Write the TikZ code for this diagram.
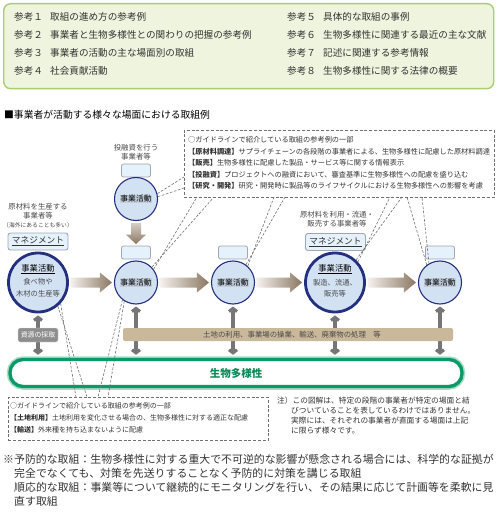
\documentclass[tikz,border=0pt]{standalone}
\usepackage{fontspec}
\setmainfont{Noto Sans CJK JP}
\newfontfamily\jp{Noto Sans CJK JP}
\usetikzlibrary{arrows.meta,calc}
\definecolor{navy}{HTML}{23307F}
\definecolor{cfill}{HTML}{D3E2F3}
\definecolor{tagfill}{HTML}{E5F1FB}
\definecolor{tagborder}{HTML}{9FA7B2}
\definecolor{dashgray}{HTML}{707070}
\definecolor{arrgray}{HTML}{767676}
\definecolor{tanbar}{HTML}{C9B899}
\definecolor{gbar}{HTML}{0A9A68}
\definecolor{gglow}{HTML}{A9DCC5}
\definecolor{gtext}{HTML}{098A58}
\definecolor{topfill}{HTML}{EFF4DE}
\definecolor{topborder}{HTML}{A9CF6E}
\definecolor{txt}{HTML}{333333}
\definecolor{lgray}{HTML}{4A4A4A}
\definecolor{brlight}{HTML}{F6F2EE}
\definecolor{brdark}{HTML}{8B7762}
\definecolor{hlfill}{HTML}{C2CDDB}
\definecolor{samplegray}{HTML}{8E8E8E}
\newcommand\fs[1]{\fontsize{#1}{#1}\selectfont}
\newcommand\brarrow[2]{%
\shade[left color=brlight, right color=brdark] let \p1=(#1.east), \p2=(#2.west) in
 ({\x1+1.5pt},{\y1+5pt}) -- ({\x2-14pt},{\y1+5pt}) -- ({\x2-14pt},{\y1+10pt}) -- ({\x2-2pt},\y1) -- ({\x2-14pt},{\y1-10pt}) -- ({\x2-14pt},{\y1-5pt}) -- ({\x1+1.5pt},{\y1-5pt}) -- cycle;}
\tikzset{
 txt/.style={inner sep=0pt, anchor=west, text=txt},
 lbl/.style={inner sep=0pt, text=lgray, font=\fs{7.4}},
 smallcirc/.style={circle, draw=navy, line width=1.1pt, fill=cfill, minimum size=43pt, inner sep=0pt},
 bigcirc/.style={circle, draw=navy, line width=2.8pt, fill=cfill, minimum size=59pt, inner sep=0pt},
 tagbox/.style={draw=tagborder, fill=tagfill, rounded corners=2pt, line width=0.8pt, minimum width=29pt, minimum height=13pt, inner sep=0pt},
 mgbox/.style={draw=tagborder, fill=tagfill, rounded corners=2.5pt, line width=0.9pt, minimum width=60pt, minimum height=17pt, inner sep=0pt, font=\fs{8.7}, text=txt},
 dbox/.style={draw=dashgray, dash pattern=on 3pt off 1.8pt, line width=0.6pt, inner sep=0pt, anchor=north west},
 leader/.style={draw=dashgray, dash pattern=on 2.6pt off 1.6pt, line width=0.6pt},
 garrow/.style={draw=arrgray, line width=3.2pt, {Straight Barb[length=3pt,width=8pt]}-{Straight Barb[length=3pt,width=8pt]}},
 hl/.style={fill=hlfill, inner sep=0.6pt, font=\fs{7.8}, text=black},
}
\begin{document}
\begin{tikzpicture}[x=1pt,y=-1pt]
\useasboundingbox (0,0) rectangle (497,526);
% reference list box
\node[draw=topborder, fill=topfill, line width=1.4pt, rounded corners=7pt, minimum width=490pt, minimum height=85pt, anchor=north west, inner sep=0pt] (refbox) at (3,3) {};
\foreach \y/\a/\b/\c/\d [count=\i] in {17/参考１/取組の進め方の参考例/参考５/具体的な取組の事例,
 35/参考２/事業者と生物多様性との関わりの把握の参考例/参考６/生物多様性に関連する最近の主な文献,
 53/参考３/事業者の活動の主な場面別の取組/参考７/記述に関連する参考情報,
 71/参考４/社会貢献活動/参考８/生物多様性に関する法律の概要}{
 \node[txt, font=\fs{9.6}] (ra\i) at (14,\y) {\a};
 \node[txt, font=\fs{9.6}] (rb\i) at (50,\y) {\b};
 \node[txt, font=\fs{9.6}] (rc\i) at (287,\y) {\c};
 \node[txt, font=\fs{9.6}] (rd\i) at (323,\y) {\d};
}
% title
\node[txt, font=\fs{9.8}, text=black] (title) at (4,115) {■事業者が活動する様々な場面における取組例};

% upper dashed box
\node[dbox, minimum width=310pt, minimum height=67pt] (ub) at (184,130) {};
\node[txt, font=\fs{7.2}] (u1) at (188,139.5) {○ガイドラインで紹介している取組の参考例の一部};
\node[txt, font=\fs{7.2}] (u2) at (188,151.5) {{\bfseries 【原材料調達】}サプライチェーンの各段階の事業者による、生物多様性に配慮した原材料調達};
\node[txt, font=\fs{7.2}] (u3) at (188,163) {{\bfseries 【販売】}生物多様性に配慮した製品・サービス等に関する情報表示};
\node[txt, font=\fs{7.2}] (u4) at (188,174.5) {{\bfseries 【投融資】}プロジェクトへの融資において、審査基準に生物多様性への配慮を盛り込む};
\node[txt, font=\fs{7.2}] (u5) at (188,186) {{\bfseries 【研究・開発】}研究・開発時に製品等のライフサイクルにおける生物多様性への影響を考慮};

% labels above circles
\node[lbl] (p0a) at (136,148) {投融資を行う};
\node[lbl] (p0b) at (136,157) {事業者等};
\node[lbl] (p1a) at (38,207) {原材料を生産する};
\node[lbl] (p1b) at (38,216) {事業者等};
\node[lbl, font=\fs{5.8}] (p1c) at (38,225) {（海外にあることも多い）};
\node[lbl] (p4a) at (337,215) {原材料を利用・流通・};
\node[lbl] (p4b) at (337,224) {販売する事業者等};

% management boxes and tags
\node[mgbox] (m1) at (38,241.5) {\underline{マネジメント}};
\node[mgbox] (m4) at (335.5,242) {\underline{マネジメント}};
\node[tagbox] (t0) at (136,170.5) {};
\node[tagbox] (t2) at (136,252.5) {};
\node[tagbox] (t3) at (233,252.5) {};
\node[tagbox] (t5) at (440,252.5) {};

% circles
\node[smallcirc] (c0) at (136,199) {};
\node[bigcirc] (c1) at (38,282.5) {};
\node[smallcirc] (c2) at (136,282.5) {};
\node[smallcirc] (c3) at (233,282.5) {};
\node[bigcirc] (c4) at (335,282.5) {};
\node[smallcirc] (c5) at (440,282.5) {};
\node[hl] (c0t) at (c0) {事業活動};
\node[hl] (c2t) at (c2) {事業活動};
\node[hl] (c3t) at (c3) {事業活動};
\node[hl] (c5t) at (c5) {事業活動};
\node[inner sep=0pt, font=\fs{8.3}, text=black] (c1t) at (38,269) {\underline{事業活動}};
\node[lbl, font=\fs{7.3}] (c1u) at (38,282) {食べ物や};
\node[lbl, font=\fs{7.3}] (c1v) at (38,293.5) {木材の生産等};
\node[inner sep=0pt, font=\fs{8.3}, text=black] (c4t) at (335,269) {\underline{事業活動}};
\node[lbl, font=\fs{7.3}] (c4u) at (335,283) {製造、流通、};
\node[lbl, font=\fs{7.3}] (c4v) at (335,294) {販売等};

% brown flow arrows
\brarrow{c1}{c2}
\brarrow{c2}{c3}
\brarrow{c3}{c4}
\brarrow{c4}{c5}
\shade[top color=brlight!70!brdark, bottom color=brdark] let \p1=(c0.south), \p2=(t2.north) in
 ({\x1-5pt},{\y1-2pt}) -- ({\x1-5pt},{\y2+11pt}) -- ({\x1-10pt},{\y2+11pt}) -- (\x1,{\y2+1.5pt}) -- ({\x1+10pt},{\y2+11pt}) -- ({\x1+5pt},{\y2+11pt}) -- ({\x1+5pt},{\y1-2pt}) -- cycle;

% biodiversity bar
\draw[gglow, line width=6.5pt, rounded corners=13pt] (10,359.5) rectangle (462,386.5);
\node[draw=gbar, fill=white, line width=3.4pt, rounded corners=13pt, minimum width=452pt, minimum height=27pt, inner sep=0pt] (bio) at (236,373) {};
\node[inner sep=0pt, font=\fs{10.5}\bfseries, text=gtext] (biot) at (236,373) {生物多様性};

% gray two-way arrows
\foreach \c in {c1,c2,c3,c4,c5}{
 \draw[garrow, shorten <=2pt, shorten >=3pt] (\c.south) -- (\c.south |- bio.north);
}
\node[fill=tanbar, rounded corners=2pt, minimum width=330pt, minimum height=13pt, inner sep=0pt] (land) at (288,334.5) {};
\node[inner sep=0pt, font=\fs{7.4}, text=lgray] (landt) at (292,334.5) {土地の利用、事業場の操業、輸送、廃棄物の処理　等};
\node[fill=samplegray, draw=white!75!gray, rounded corners=2pt, minimum width=40pt, minimum height=14pt, inner sep=0pt, font=\fs{6.9}, text=white] (res) at (38,335) {資源の採取};

% upper leader wedges
\coordinate (ua1) at (184,177); \coordinate (ua2) at (184,188);
\coordinate (ub1) at (197,197); \coordinate (ub2) at (214,197);
\coordinate (uc1) at (274,197); \coordinate (uc2) at (285,197);
\coordinate (ud1) at (390,197); \coordinate (ud2) at (402,197);
\coordinate (ue1) at (407,197); \coordinate (ue2) at (422,197);
\draw[leader] (c0.14) -- (ua1); \draw[leader] (c0.6) -- (ua2);
\draw[leader] (c2.37) -- (ub1); \draw[leader] (c2.44) -- (ub2);
\draw[leader] (c3.48) -- (uc1); \draw[leader] (c3.54) -- (uc2);
\draw[leader] (c4.42) -- (ud1); \draw[leader] (c4.47) -- (ud2);
\draw[leader] (c5.127) -- (ue1); \draw[leader] (c5.120) -- (ue2);

% lower dashed box
\node[dbox, minimum width=260pt, minimum height=43pt] (lb) at (8,397) {};
\node[txt, font=\fs{7.0}] (l1) at (10,406) {○ガイドラインで紹介している取組の参考例の一部};
\node[txt, font=\fs{7.0}] (l2) at (10,418) {{\bfseries 【土地利用】}土地利用を変化させる場合の、生物多様性に対する適正な配慮};
\node[txt, font=\fs{7.0}] (l3) at (10,430) {{\bfseries 【輸送】}外来種を持ち込まないように配慮};
\coordinate (la1) at (76,397); \coordinate (la2) at (87,397);
\coordinate (lb1) at (98,397); \coordinate (lb2) at (108,397);
\draw[leader] (c1.-43) -- (la1); \draw[leader] (c1.-50) -- (la2);
\draw[leader] (c2.-128) -- (lb1); \draw[leader] (c2.-122) -- (lb2);

% note
\node[txt, font=\fs{7.7}] (n1) at (277,401) {注）この図解は、特定の段階の事業者が特定の場面と結};
\node[txt, font=\fs{7.7}] (n2) at (291,411) {びついていることを表しているわけではありません。};
\node[txt, font=\fs{7.7}] (n3) at (291,421) {実際には、それぞれの事業者が直面する場面は上記};
\node[txt, font=\fs{7.7}] (n4) at (291,431) {に限らず様々です。};

% footnote
\node[txt, font=\fs{10.9}] (f1) at (3,459) {※予防的な取組：生物多様性に対する重大で不可逆的な影響が懸念される場合には、科学的な証拠が};
\node[txt, font=\fs{10.9}] (f2) at (14,473) {完全でなくても、対策を先送りすることなく予防的に対策を講じる取組};
\node[txt, font=\fs{10.9}] (f3) at (14,487) {順応的な取組：事業等について継続的にモニタリングを行い、その結果に応じて計画等を柔軟に見};
\node[txt, font=\fs{10.9}] (f4) at (14,501) {直す取組};
\end{tikzpicture}
\end{document}
